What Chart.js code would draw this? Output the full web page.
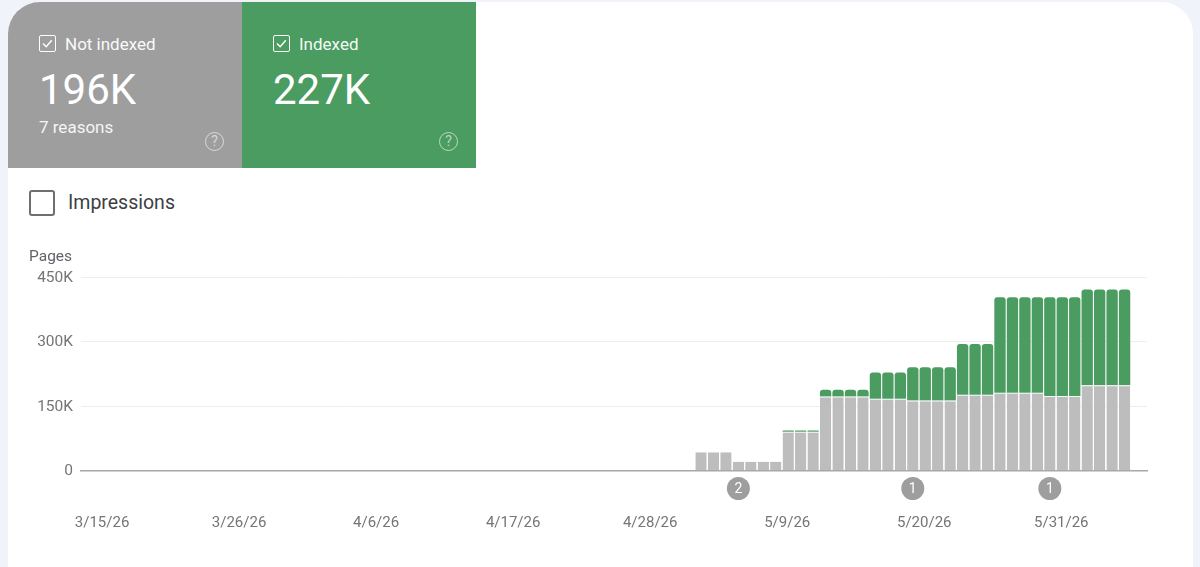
<html>
<head>
<script src="https://cdn.jsdelivr.net/npm/chart.js@4/dist/chart.umd.js"></script>
<style>
  html, body { margin: 0; padding: 0; }
  body { width: 1200px; height: 567px; background: #f1f3fa; overflow: hidden; font-family: Roboto, sans-serif; position: relative; }
  #card { position: absolute; left: 8px; top: 2px; width: 1185px; height: 565px; background: #fff; border-radius: 32px 32px 0 0; overflow: hidden; }
  .tile { position: absolute; top: 0; width: 234px; height: 166px; color: #fff; }
  #tile1 { left: 0; background: #9e9e9e; }
  #tile2 { left: 234px; background: #4a9c60; }
  .box { position: absolute; left: 31px; top: 33px; width: 15px; height: 15px; border: 1.5px solid #fff; border-radius: 2px; }
  .box svg { position: absolute; left: 0; top: 0; }
  .name { position: absolute; left: 57px; top: 33px; font-size: 17px; line-height: 18px; opacity: .95; }
  .num { position: absolute; left: 31px; top: 64px; font-size: 42px; line-height: 48px; }
  .sub { position: absolute; left: 31px; top: 116px; font-size: 17px; line-height: 18px; opacity: .9; }
  .help { position: absolute; left: 197px; top: 130px; width: 17px; height: 17px; border: 1.5px solid rgba(255,255,255,.6); border-radius: 50%; font-size: 14px; line-height: 17px; text-align: center; color: rgba(255,255,255,.6); }
  #imp-box { position: absolute; left: 29px; top: 190px; width: 22px; height: 22px; border: 2px solid #6f6f6f; border-radius: 3px; }
  #imp-label { position: absolute; left: 68px; top: 192px; font-size: 19.5px; line-height: 22px; color: #3c4043; }
  #pages { position: absolute; left: 29px; top: 248px; font-size: 15.5px; line-height: 16px; color: #5f6368; }
  #c { position: absolute; left: 0; top: 240px; }
</style>
</head>
<body>
<div id="card">
  <div class="tile" id="tile1">
    <div class="box"><svg width="15" height="15"><path d="M3 7.5l3.2 3.2 5.6-6.4" fill="none" stroke="#fff" stroke-width="1.4"/></svg></div>
    <div class="name">Not indexed</div>
    <div class="num">196K</div>
    <div class="sub">7 reasons</div>
    <div class="help">?</div>
  </div>
  <div class="tile" id="tile2">
    <div class="box"><svg width="15" height="15"><path d="M3 7.5l3.2 3.2 5.6-6.4" fill="none" stroke="#fff" stroke-width="1.4"/></svg></div>
    <div class="name">Indexed</div>
    <div class="num">227K</div>
    <div class="help">?</div>
  </div>
</div>
<div id="imp-box"></div>
<div id="imp-label">Impressions</div>
<canvas id="c" width="1200" height="327"></canvas>
<div id="pages">Pages</div>

<script>
// one bar per day, 3/15/26 to 6/5/26, first bar is day 0
var notIndexed = [
  0,0,0,0,0,0,0,0,0,0,0,0,0,0,0,0,0,0,0,0,0,0,0,0,
  0,0,0,0,0,0,0,0,0,0,0,0,0,0,0,0,0,0,0,0,0,0,0,0,
  44000,44000,44000,22000,22000,22000,22000,
  90000,90000,90000,
  172000,172000,172000,172000,
  167000,167000,167000,
  163000,163000,163000,163000,
  176000,176000,176000,
  181000,181000,181000,181000,
  173000,173000,173000,
  198000,198000,198000,198000
];
var indexed = [
  0,0,0,0,0,0,0,0,0,0,0,0,0,0,0,0,0,0,0,0,0,0,0,0,
  0,0,0,0,0,0,0,0,0,0,0,0,0,0,0,0,0,0,0,0,0,0,0,0,
  0,0,0,0,0,0,0,
  3000,3000,3000,
  16000,16000,16000,16000,
  61000,61000,61000,
  77000,77000,77000,77000,
  118000,118000,118000,
  222000,222000,222000,222000,
  230000,230000,230000,
  223000,223000,223000,223000
];
var xTickDays = [0, 11, 22, 33, 44, 55, 66, 77];
var xTickLabels = ["3/15/26", "3/26/26", "4/6/26", "4/17/26", "4/28/26", "5/9/26", "5/20/26", "5/31/26"];
var yTickLabels = { 0: "0", 150000: "150K", 300000: "300K", 450000: "450K" };
var noteDays = [51, 65, 76];
var noteCounts = ["2", "1", "1"];

function points(values) {
  return values.map(function (v, i) { return { x: i, y: v }; });
}

// the little numbered circles under the axis
var notesPlugin = {
  id: "notes",
  afterDraw: function (chart) {
    var ctx = chart.ctx;
    var y = chart.scales.y.getPixelForValue(0) + 18;
    noteDays.forEach(function (d, i) {
      var x = chart.scales.x.getPixelForValue(d);
      ctx.save();
      ctx.beginPath();
      ctx.arc(x, y, 11.5, 0, Math.PI * 2);
      ctx.fillStyle = "#9e9e9e";
      ctx.fill();
      ctx.fillStyle = "#fff";
      ctx.font = "14px Roboto";
      ctx.textAlign = "center";
      ctx.textBaseline = "middle";
      ctx.fillText(noteCounts[i], x, y + 1);
      ctx.restore();
    });
  }
};

new Chart("c", {
  type: "bar",
  data: {
    datasets: [{
      label: "Not indexed",
      data: points(notIndexed),
      backgroundColor: "#bdbdbd",
      borderColor: "#f4faf5",
      borderWidth: { top: 1 },
      borderSkipped: false,
      barPercentage: 0.91,
      categoryPercentage: 1
    }, {
      label: "Indexed",
      data: points(indexed),
      backgroundColor: "#4a9c60",
      borderWidth: 0,
      borderRadius: { topLeft: 3, topRight: 3 },
      barPercentage: 0.91,
      categoryPercentage: 1
    }]
  },
  options: {
    responsive: false,
    animation: false,
    layout: { padding: { top: 37, right: 53, left: 0, bottom: 0 } },
    plugins: { legend: { display: false }, tooltip: { enabled: false } },
    scales: {
      x: {
        type: "linear",
        stacked: true,
        offset: false,
        min: -1.77,
        max: 83.8,
        afterBuildTicks: function (scale) {
          scale.ticks = xTickDays.map(function (d) { return { value: d }; });
        },
        afterFit: function (scale) { scale.height = 96.5; },
        grid: { display: false, offset: false },
        border: { color: "#a8a8a8", width: 1.5 },
        ticks: {
          autoSkip: false,
          maxRotation: 0,
          padding: 36,
          labelOffset: -1,
          color: "#757575",
          font: { family: "Roboto", size: 15 },
          callback: function (v) { return xTickLabels[xTickDays.indexOf(v)]; }
        }
      },
      y: {
        stacked: true,
        min: 0,
        max: 450000,
        afterFit: function (scale) { scale.width = 81; },
        grid: { color: "#eeeeee", drawTicks: false },
        border: { display: false },
        ticks: {
          stepSize: 150000,
          padding: 8,
          labelOffset: 1,
          color: "#757575",
          font: { family: "Roboto", size: 15.5 },
          callback: function (v) { return yTickLabels[v]; }
        }
      }
    }
  },
  plugins: [notesPlugin]
});
</script>
</body>
</html>
